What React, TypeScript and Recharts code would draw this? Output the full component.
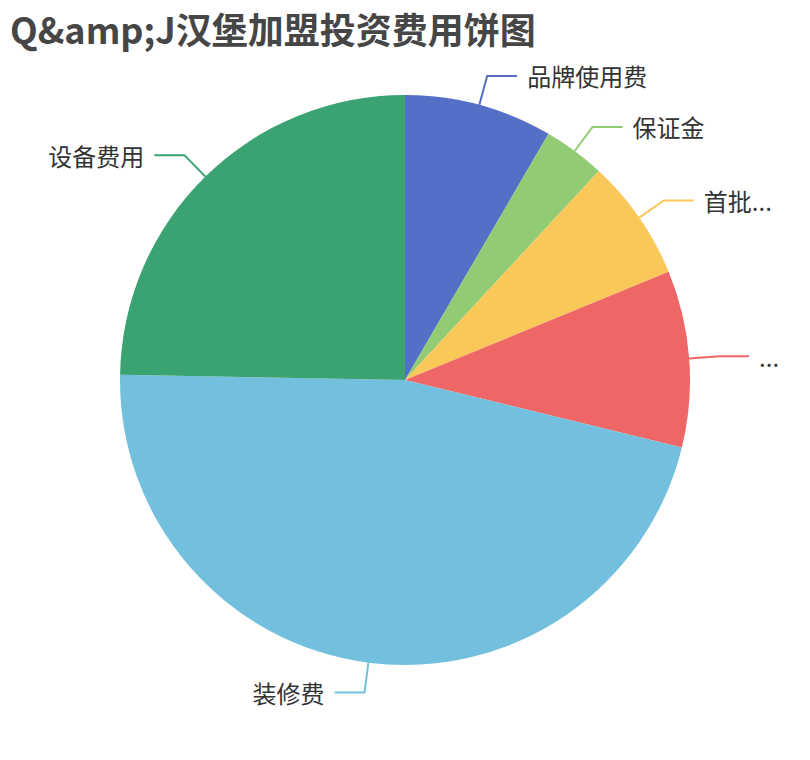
import { PieChart, Pie, Cell } from 'recharts';

const names = ['品牌使用费', '保证金', '首批...', '...', '装修费', '设备费用'];
const values = [8.4, 3.5, 6.9, 10, 46.5, 24.7];
const colors = ['#5470c6', '#91cc75', '#fac858', '#ee6666', '#73c0de', '#3ba272'];

const data = names.map((name, i) => ({ name, value: values[i] }));

const RAD = Math.PI / 180;
const FONT = '"Noto Sans CJK SC", "Noto Sans", sans-serif';

function renderLabel(props: any) {
  const { cx, cy, midAngle, outerRadius, index } = props;
  const cos = Math.cos(-midAngle * RAD);
  const sin = Math.sin(-midAngle * RAD);
  const sx = cx + outerRadius * cos;
  const sy = cy + outerRadius * sin;
  const mx = cx + (outerRadius + 30) * cos;
  const my = cy + (outerRadius + 30) * sin;
  const dir = cos >= 0 ? 1 : -1;
  const ex = mx + dir * 30;
  const color = colors[index];
  return (
    <g key={`label-${index}`}>
      <polyline
        points={`${sx},${sy} ${mx},${my} ${ex},${my}`}
        fill="none"
        stroke={color}
        strokeWidth={2}
      />
      <text
        x={ex + dir * 10}
        y={my}
        textAnchor={dir > 0 ? 'start' : 'end'}
        dominantBaseline="central"
        fill="#333"
        fontSize={24}
        fontFamily={FONT}
      >
        {names[index]}
      </text>
    </g>
  );
}

export default function App() {
  return (
    <div style={{ position: 'absolute', left: 0, top: 0, width: 810, height: 760, background: '#fff' }}>
      <div
        style={{
          position: 'absolute',
          left: 10,
          top: 8,
          fontSize: 36,
          lineHeight: '40px',
          fontWeight: 'bold',
          color: '#464646',
          fontFamily: FONT,
          whiteSpace: 'nowrap',
        }}
      >
        Q&amp;amp;J汉堡加盟投资费用饼图
      </div>
      <PieChart width={810} height={760} margin={{ top: 0, right: 0, bottom: 0, left: 0 }}>
        <Pie
          data={data}
          dataKey="value"
          nameKey="name"
          cx={405}
          cy={380}
          outerRadius={285}
          startAngle={90}
          endAngle={-270}
          stroke="none"
          label={renderLabel}
          labelLine={false}
          isAnimationActive={false}
        >
          {data.map((d, i) => (
            <Cell key={d.name} fill={colors[i]} />
          ))}
        </Pie>
      </PieChart>
    </div>
  );
}
